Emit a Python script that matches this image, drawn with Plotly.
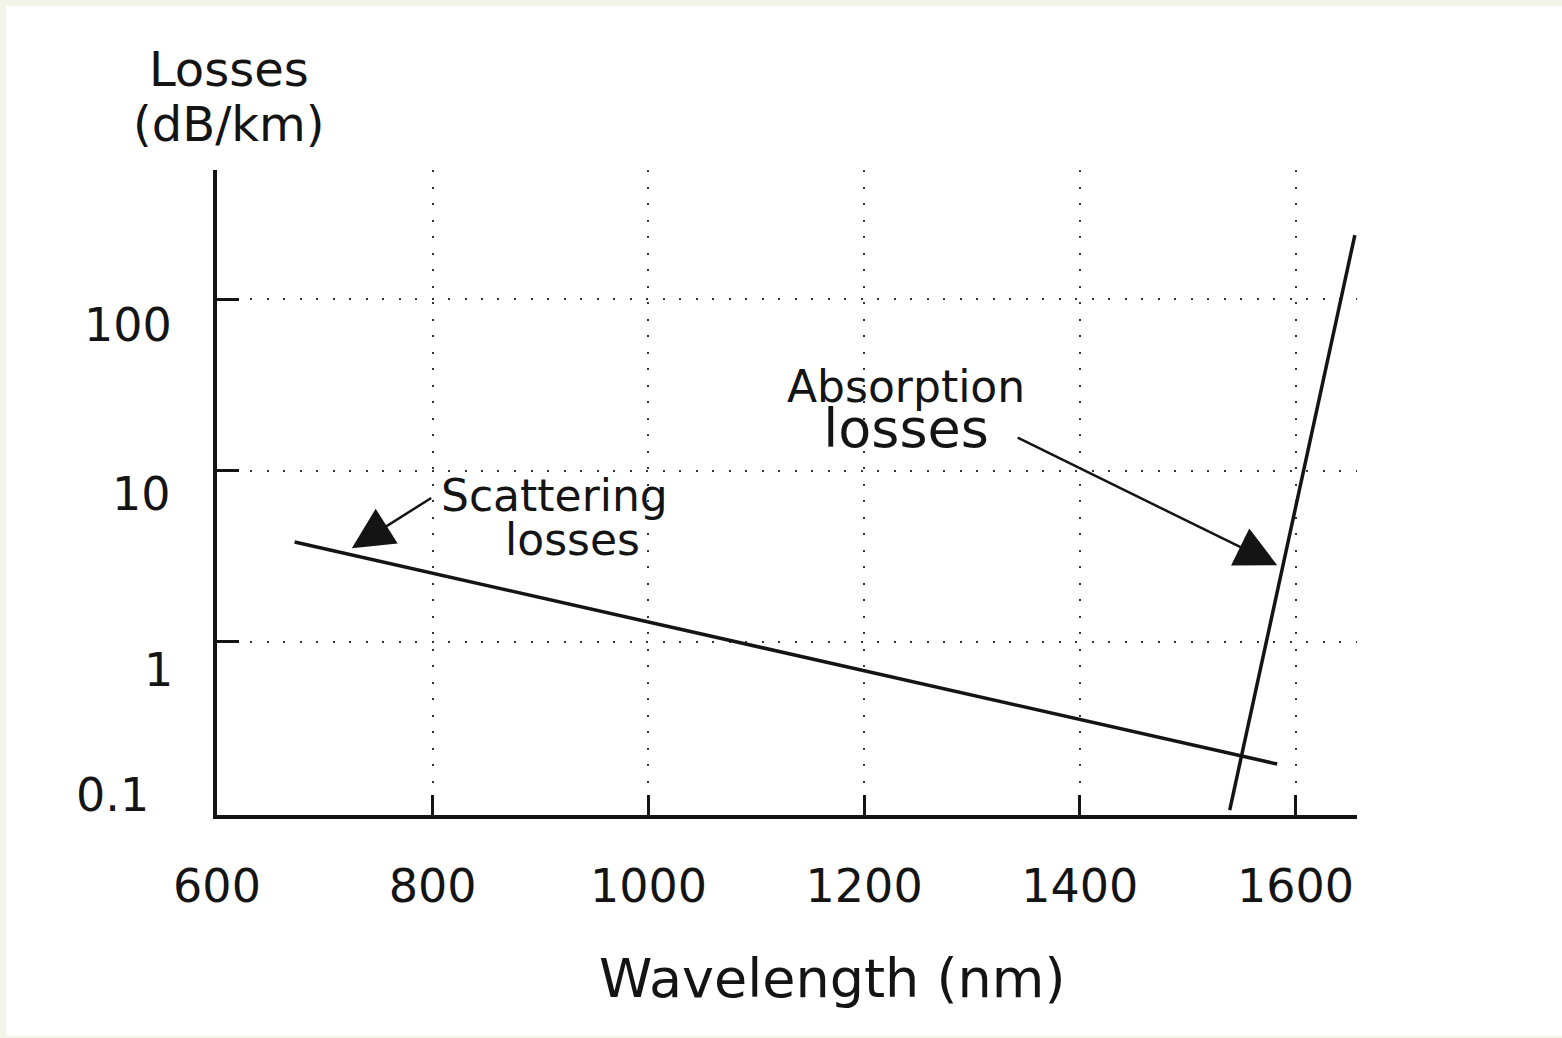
import math
import plotly.graph_objects as go

# ---------------- data ----------------
scatter_wl = [672, 1583]          # nm
scatter_loss = [3.82, 0.193]      # dB/km
absorb_wl = [1539, 1655]          # nm
absorb_loss = [0.104, 237]        # dB/km

x_ticks = [600, 800, 1000, 1200, 1400, 1600]
x_tick_labels = ["600", "800", "1000", "1200", "1400", "1600"]
y_ticks = [100, 10, 1, 0.1]
y_tick_labels = ["100", "10", "1", "0.1"]

scatter_text = ["Scattering", "losses"]
absorb_text = ["Absorption", "losses"]
# arrow tip / tail points (wavelength, loss)
scatter_arrow_tip = (725, 3.52)
scatter_arrow_tail = (800, 7.0)
absorb_arrow_tip = (1583, 2.80)
absorb_arrow_tail = (1341, 15.7)

# ---------------- style ----------------
INK = "#141414"
FONT = "DejaVu Sans"
W, H = 1562, 1038
ML, MR, MT, MB = 217, 205, 170, 223
PW = W - ML - MR
PH = H - MT - MB


def px_to_paper_x(px):
    return (px - ML) / PW


def py_to_paper_y(py):
    return (H - MB - py) / PH


fig = go.Figure()
fig.add_trace(go.Scatter(x=scatter_wl, y=scatter_loss, mode="lines",
                         line=dict(color=INK, width=3.5), showlegend=False,
                         hoverinfo="skip"))
fig.add_trace(go.Scatter(x=absorb_wl, y=absorb_loss, mode="lines",
                         line=dict(color=INK, width=3.5), showlegend=False,
                         hoverinfo="skip"))

annotations = []
# y tick labels (irregularly placed in the original)
y_label_cx = [128, 141, 158, 112]
y_label_shift = [-26, -23, -28, 18]
for v, t, cx, sh in zip(y_ticks, y_tick_labels, y_label_cx, y_label_shift):
    annotations.append(dict(x=px_to_paper_x(cx), xref="paper", y=math.log10(v), yref="y",
                            text=t, showarrow=False, xanchor="center", yanchor="middle",
                            yshift=sh, font=dict(family=FONT, size=46, color=INK)))

# y axis title
annotations.append(dict(x=px_to_paper_x(229), xref="paper", y=py_to_paper_y(97), yref="paper",
                        text="<span style='font-size:48px'>Losses</span><br>"
                             "<span style='font-size:48px'>(dB/km)</span>",
                        showarrow=False, xanchor="center",
                        yanchor="middle", align="center",
                        font=dict(family=FONT, size=42, color=INK)))
# x axis title
annotations.append(dict(x=px_to_paper_x(832), xref="paper", y=py_to_paper_y(978), yref="paper",
                        text="Wavelength (nm)", showarrow=False, xanchor="center",
                        yanchor="middle", font=dict(family=FONT, size=54, color=INK)))

# curve labels
annotations.append(dict(x=913, y=math.log10(7.19), text=scatter_text[0], showarrow=False,
                        xanchor="center", yanchor="middle",
                        font=dict(family=FONT, size=44, color=INK)))
annotations.append(dict(x=930, y=math.log10(3.93), text=scatter_text[1], showarrow=False,
                        xanchor="center", yanchor="middle",
                        font=dict(family=FONT, size=44, color=INK)))
annotations.append(dict(x=1239, y=math.log10(22.5),
                        text=f"<span style='font-size:44px'>{absorb_text[0]}</span><br>"
                             f"<span style='font-size:54px'>{absorb_text[1]}</span>",
                        showarrow=False, xanchor="center", yanchor="middle", align="center",
                        font=dict(family=FONT, size=34.6, color=INK)))

# arrows
for tip, tail in [(scatter_arrow_tip, scatter_arrow_tail), (absorb_arrow_tip, absorb_arrow_tail)]:
    annotations.append(dict(x=tip[0], y=math.log10(tip[1]), xref="x", yref="y",
                            ax=tail[0], ay=math.log10(tail[1]), axref="x", ayref="y",
                            text="", showarrow=True, arrowhead=2, arrowsize=3.3,
                            arrowwidth=2.5, arrowcolor=INK, standoff=0, startstandoff=0))

shapes = [dict(type="rect", xref="paper", yref="paper", layer="below",
               x0=px_to_paper_x(6), x1=px_to_paper_x(W + 5),
               y0=py_to_paper_y(1036), y1=py_to_paper_y(6),
               line=dict(width=0), fillcolor="white")]

fig.update_layout(
    width=W, height=H, autosize=False,
    margin=dict(l=ML, r=MR, t=MT, b=MB, pad=0),
    paper_bgcolor="#f2f5e7", plot_bgcolor="rgba(0,0,0,0)",
    showlegend=False,
    annotations=annotations, shapes=shapes,
    xaxis=dict(range=[600, 1657], tickvals=x_ticks, ticktext=x_tick_labels,
               showline=True, linewidth=3.5, linecolor=INK,
               ticks="inside", ticklen=20, tickwidth=2.5, tickcolor=INK,
               showgrid=True, gridcolor="#333333", gridwidth=2, griddash="2px,14.5px",
               zeroline=False, ticklabelstandoff=28,
               tickfont=dict(family=FONT, size=46, color=INK)),
    yaxis=dict(type="log", range=[-1.012, 2.755], tickvals=[1, 10, 100],
               showticklabels=False,
               showline=True, linewidth=3.5, linecolor=INK,
               ticks="inside", ticklen=22, tickwidth=2.5, tickcolor=INK,
               showgrid=True, gridcolor="#333333", gridwidth=2, griddash="2px,14.5px",
               zeroline=False),
)

fig.write_html("out.html")
